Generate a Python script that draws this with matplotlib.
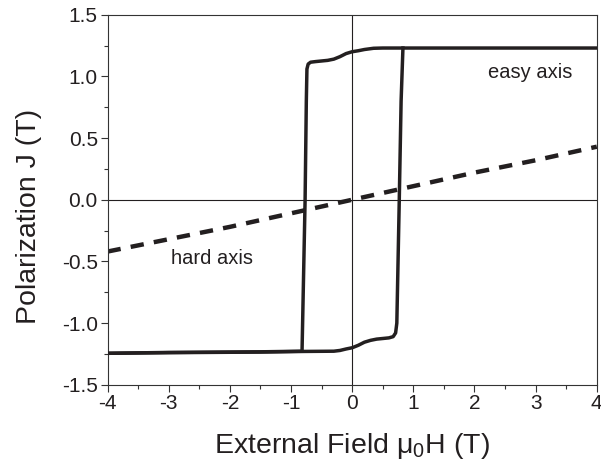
import numpy as np
import matplotlib
matplotlib.use('Agg')
from matplotlib import pyplot as plt
from matplotlib.ticker import MultipleLocator

plt.rcParams['font.family'] = ['Liberation Sans', 'DejaVu Sans']
plt.rcParams['axes.unicode_minus'] = False

# easy axis loop, descending branch (+4 -> -4)
h_down = [4.0, 2.0, 1.0, 0.5, 0.35, 0.2, 0.1, 0.0, -0.1, -0.2, -0.3, -0.4,
          -0.5, -0.6, -0.68, -0.72, -0.74, -0.75, -0.77, -0.82, -1.5, -3.0, -4.0]
j_down = [1.23, 1.23, 1.23, 1.23, 1.228, 1.218, 1.208, 1.20, 1.185, 1.16, 1.14, 1.13,
          1.125, 1.12, 1.115, 1.10, 1.06, 0.80, 0.0, -1.228, -1.233, -1.238, -1.245]

# easy axis loop, ascending branch (-4 -> +0.83)
h_up = [-4.0, -3.0, -1.5, -0.8, -0.3, -0.2, -0.1, 0.0, 0.1, 0.2, 0.3, 0.4,
        0.5, 0.6, 0.67, 0.71, 0.73, 0.77, 0.80, 0.83]
j_up = [-1.245, -1.24, -1.235, -1.23, -1.228, -1.222, -1.21, -1.20, -1.18, -1.155, -1.14, -1.13,
        -1.125, -1.12, -1.11, -1.08, -1.0, 0.0, 0.8, 1.23]

# hard axis
h_hard = [-4, -3, -2, -1, 0, 1, 2, 3, 4]
j_hard = [-0.42, -0.32, -0.22, -0.11, 0.0, 0.11, 0.22, 0.32, 0.43]

fig = plt.figure(figsize=(6.01, 4.75), dpi=100)
ax = fig.add_axes([0.179, 0.19, 0.814, 0.779])

ink = '#231f20'
ax.axhline(0, color=ink, lw=0.8, zorder=1)
ax.axvline(0, color=ink, lw=0.8, zorder=1)

ax.plot(h_down, j_down, color=ink, lw=2.5, solid_joinstyle='round', zorder=3)
ax.plot(h_up, j_up, color=ink, lw=2.5, solid_joinstyle='round', zorder=3)
ax.plot(h_hard, j_hard, color=ink, lw=3.2, linestyle=(0, (3, 2.3)), zorder=2)

ax.text(2.22, 1.03, 'easy axis', fontsize=14.5, color=ink, va='center', ha='left')
ax.text(-2.96, -0.475, 'hard axis', fontsize=14.5, color=ink, va='center', ha='left')

ax.set_xlim(-4, 4)
ax.set_ylim(-1.5, 1.5)
ax.xaxis.set_major_locator(MultipleLocator(1))
ax.xaxis.set_minor_locator(MultipleLocator(0.5))
ax.yaxis.set_major_locator(MultipleLocator(0.5))
ax.yaxis.set_minor_locator(MultipleLocator(0.25))
ax.set_yticks(np.arange(-1.5, 1.51, 0.5))
ax.set_yticklabels(['%.1f' % v for v in np.arange(-1.5, 1.51, 0.5)])

ax.tick_params(which='both', direction='out', top=False, right=False,
               color='#333333', width=0.8, labelsize=15, labelcolor=ink)
ax.tick_params(which='major', length=5, pad=2)
ax.tick_params(which='minor', length=3)
for s in ax.spines.values():
    s.set_linewidth(0.8)
    s.set_color('#333333')

ax.set_xlabel('External Field μ$_\\mathregular{0}$H (T)', fontsize=20.5, color=ink)
ax.set_ylabel('Polarization J (T)', fontsize=20.5, color=ink)
ax.xaxis.set_label_coords(0.5, -0.125)
ax.yaxis.set_label_coords(-0.135, 0.455)

fig.savefig('out.png', dpi=100)
